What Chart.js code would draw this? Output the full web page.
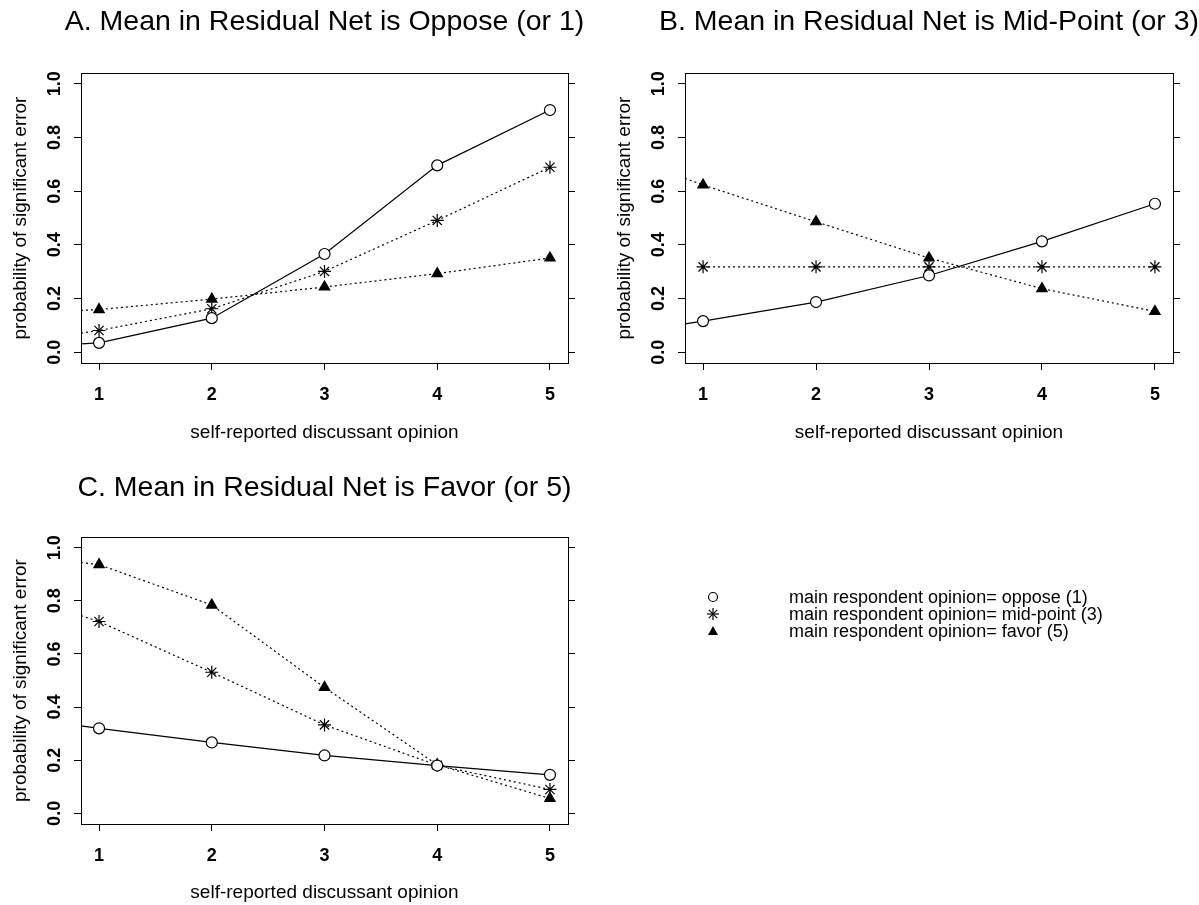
<!DOCTYPE html>
<html>
<head>
<meta charset="utf-8">
<script src="https://cdn.jsdelivr.net/npm/chart.js@4.4.1/dist/chart.umd.min.js"></script>
<style>
html,body{margin:0;padding:0;background:#fff;}
body{width:1199px;height:905px;position:relative;overflow:hidden;font-family:"Liberation Sans",Arial,sans-serif;}
.pane{position:absolute;}
.lgmark{position:absolute;}
.lgtext{position:absolute;font-size:18px;line-height:18px;color:#000;white-space:nowrap;}
</style>
</head>
<body>
<div class="pane" style="left:0;top:0;width:600px;height:450px"><canvas id="cA" width="600" height="450"></canvas></div>
<div class="pane" style="left:600px;top:0;width:599px;height:450px"><canvas id="cB" width="599" height="450"></canvas></div>
<div class="pane" style="left:0;top:450px;width:600px;height:455px"><canvas id="cC" width="600" height="455"></canvas></div>
<div id="legend" class="pane" style="left:0;top:0;width:1199px;height:905px;pointer-events:none"></div>
<script>
// ---------- data ----------
const xCategories = [1, 2, 3, 4, 5];
const xTickLabels = ['1', '2', '3', '4', '5'];
const yTickValues = [0, 0.2, 0.4, 0.6, 0.8, 1.0];
const yTickLabels = ['0.0', '0.2', '0.4', '0.6', '0.8', '1.0'];
const xMin = 0.84, xMax = 5.16, yMin = -0.04, yMax = 1.04;

const seriesNames = [
  'main respondent opinion= oppose (1)',
  'main respondent opinion= mid-point (3)',
  'main respondent opinion= favor (5)'
];
const panelTitles = [
  'A. Mean in Residual Net is Oppose (or 1)',
  'B. Mean in Residual Net is Mid-Point (or 3)',
  'C. Mean in Residual Net is Favor (or 5)'
];
const xAxisTitle = 'self-reported discussant opinion';
const yAxisTitle = 'probability of significant error';

// Panel A
const aOppose   = [0.035, 0.127, 0.366, 0.696, 0.902];
const aMidpoint = [0.081, 0.162, 0.301, 0.491, 0.689];
const aFavor    = [0.159, 0.198, 0.243, 0.293, 0.351];
const aEdge     = [0.031, 0.071, 0.156];   // line values at the left plot edge
// Panel B
const bOppose   = [0.116, 0.187, 0.286, 0.413, 0.553];
const bMidpoint = [0.318, 0.318, 0.318, 0.318, 0.318];
const bFavor    = [0.623, 0.486, 0.351, 0.237, 0.152];
const bEdge     = [0.106, null, 0.648];
// Panel C
const cOppose   = [0.320, 0.267, 0.218, 0.180, 0.145];
const cMidpoint = [0.722, 0.531, 0.333, 0.181, 0.090];
const cFavor    = [0.936, 0.784, 0.474, 0.183, 0.056];
const cEdge     = [0.329, 0.744, 0.944];

// ---------- styles ----------
const FAM = '"Liberation Sans", Arial, sans-serif';
const styles = [
  {ps: 'circle',   r: 5.5, fill: '#ffffff', dash: []},
  {ps: 'star',     r: 6.5, fill: '#000000', dash: [2, 3]},
  {ps: 'triangle', r: 6,   fill: '#000000', dash: [2, 3]}
];

function makeSeries(vals, edge, st, name) {
  const pts = xCategories.map((x, i) => ({x: x, y: vals[i]}));
  const radii = pts.map(() => st.r);
  if (edge !== null && edge !== undefined) {
    pts.unshift({x: xMin, y: edge});
    radii.unshift(0);
  }
  return {
    label: name,
    data: pts,
    pointRadius: radii,
    pointHoverRadius: radii,
    pointStyle: st.ps,
    pointBackgroundColor: st.fill,
    pointBorderColor: '#000',
    pointBorderWidth: 1.2,
    borderColor: '#000',
    backgroundColor: st.fill,
    borderWidth: 1.2,
    borderDash: st.dash,
    tension: 0,
    fill: false
  };
}

const decor = {
  id: 'decor',
  beforeDatasetsDraw(chart, args, opts) {
    const {ctx, chartArea: a} = chart;
    ctx.save();
    ctx.strokeStyle = '#000';
    ctx.lineWidth = 1;
    ctx.strokeRect(Math.round(a.left) + 0.5, Math.round(a.top) + 0.5,
                   Math.round(a.right - a.left), Math.round(a.bottom - a.top));
    ctx.restore();
  },
  afterDraw(chart, args, opts) {
    const {ctx, chartArea: a} = chart;
    ctx.save();
    ctx.fillStyle = '#000';
    ctx.textAlign = 'center';
    ctx.textBaseline = 'middle';
    ctx.font = '28.5px ' + FAM;
    ctx.fillText(opts.title, (a.left + a.right) / 2, opts.titleY);
    const ys = chart.scales.y;
    ctx.font = 'bold 18px ' + FAM;
    yTickValues.forEach((v, i) => {
      const py = ys.getPixelForValue(v);
      ctx.save();
      ctx.translate(a.left - 25.5, py);
      ctx.rotate(-Math.PI / 2);
      ctx.fillText(yTickLabels[i], 0, 0);
      ctx.restore();
    });
    ctx.restore();
  }
};

function gridOpts() {
  return {drawOnChartArea: false, drawTicks: true, tickLength: 7, color: '#000', lineWidth: 1};
}

function makeChart(id, datasets, cfg) {
  return new Chart(document.getElementById(id), {
    type: 'line',
    data: {datasets: datasets},
    plugins: [decor],
    options: {
      responsive: false,
      animation: false,
      events: [],
      layout: {padding: {left: 0, right: 0, top: cfg.padTop, bottom: cfg.padBottom}},
      plugins: {
        legend: {display: false},
        tooltip: {enabled: false},
        decor: {title: cfg.title, titleY: cfg.titleY}
      },
      scales: {
        x: {
          type: 'linear', min: xMin, max: xMax, position: 'bottom',
          afterBuildTicks: s => { s.ticks = xCategories.map(v => ({value: v})); },
          afterFit: s => { s.height = cfg.xH; },
          ticks: {
            callback: (v, i) => xTickLabels[i],
            font: {size: 18, weight: 'bold', family: FAM}, color: '#000',
            padding: 14, maxRotation: 0, autoSkip: false
          },
          grid: gridOpts(),
          border: {display: false},
          title: {display: true, text: xAxisTitle, font: {size: 19, family: FAM}, color: '#000', padding: {top: 0, bottom: 0}}
        },
        y: {
          type: 'linear', min: yMin, max: yMax, position: 'left',
          afterBuildTicks: s => { s.ticks = yTickValues.map(v => ({value: v})); },
          afterFit: s => { s.width = cfg.yW; },
          ticks: {display: false},
          grid: gridOpts(),
          border: {display: false},
          title: {display: true, text: yAxisTitle, font: {size: 19, family: FAM}, color: '#000', padding: {top: cfg.yTitlePad, bottom: 0}}
        },
        y2: {
          type: 'linear', min: yMin, max: yMax, position: 'right',
          afterBuildTicks: s => { s.ticks = yTickValues.map(v => ({value: v})); },
          afterFit: s => { s.width = cfg.y2W; },
          ticks: {display: false},
          grid: gridOpts(),
          border: {display: false}
        }
      }
    }
  });
}

makeChart('cA', [
  makeSeries(aOppose, aEdge[0], styles[0], seriesNames[0]),
  makeSeries(aMidpoint, aEdge[1], styles[1], seriesNames[1]),
  makeSeries(aFavor, aEdge[2], styles[2], seriesNames[2])
], {title: panelTitles[0], titleY: 22, padTop: 73, padBottom: 6, xH: 81, yW: 81, y2W: 32, yTitlePad: 9.5});

makeChart('cB', [
  makeSeries(bOppose, bEdge[0], styles[0], seriesNames[0]),
  makeSeries(bMidpoint, bEdge[1], styles[1], seriesNames[1]),
  makeSeries(bFavor, bEdge[2], styles[2], seriesNames[2])
], {title: panelTitles[1], titleY: 22, padTop: 73, padBottom: 6, xH: 81, yW: 85, y2W: 26, yTitlePad: 13.5});

makeChart('cC', [
  makeSeries(cOppose, cEdge[0], styles[0], seriesNames[0]),
  makeSeries(cMidpoint, cEdge[1], styles[1], seriesNames[1]),
  makeSeries(cFavor, cEdge[2], styles[2], seriesNames[2])
], {title: panelTitles[2], titleY: 38, padTop: 87, padBottom: 1, xH: 80, yW: 81, y2W: 32, yTitlePad: 9.5});

// ---------- legend ----------
const markerSvgs = [
  '<svg width="16" height="16" viewBox="0 0 16 16"><circle cx="8" cy="8" r="4.5" fill="#fff" stroke="#000" stroke-width="1.2"/></svg>',
  '<svg width="16" height="16" viewBox="0 0 16 16"><g stroke="#000" stroke-width="1.2"><line x1="2" y1="8" x2="14" y2="8"/><line x1="8" y1="2" x2="8" y2="14"/><line x1="3.8" y1="3.8" x2="12.2" y2="12.2"/><line x1="3.8" y1="12.2" x2="12.2" y2="3.8"/></g></svg>',
  '<svg width="16" height="16" viewBox="0 0 16 16"><polygon points="8,3 13,12 3,12" fill="#000"/></svg>'
];
const legendRowsY = [597, 614, 631];
const lg = document.getElementById('legend');
seriesNames.forEach((name, i) => {
  const m = document.createElement('div');
  m.className = 'lgmark';
  m.style.left = (713 - 8) + 'px';
  m.style.top = (legendRowsY[i] - 8) + 'px';
  m.innerHTML = markerSvgs[i];
  lg.appendChild(m);
  const t = document.createElement('div');
  t.className = 'lgtext';
  t.style.left = '789px';
  t.style.top = (legendRowsY[i] - 9) + 'px';
  t.textContent = name;
  lg.appendChild(t);
});
</script>
</body>
</html>
